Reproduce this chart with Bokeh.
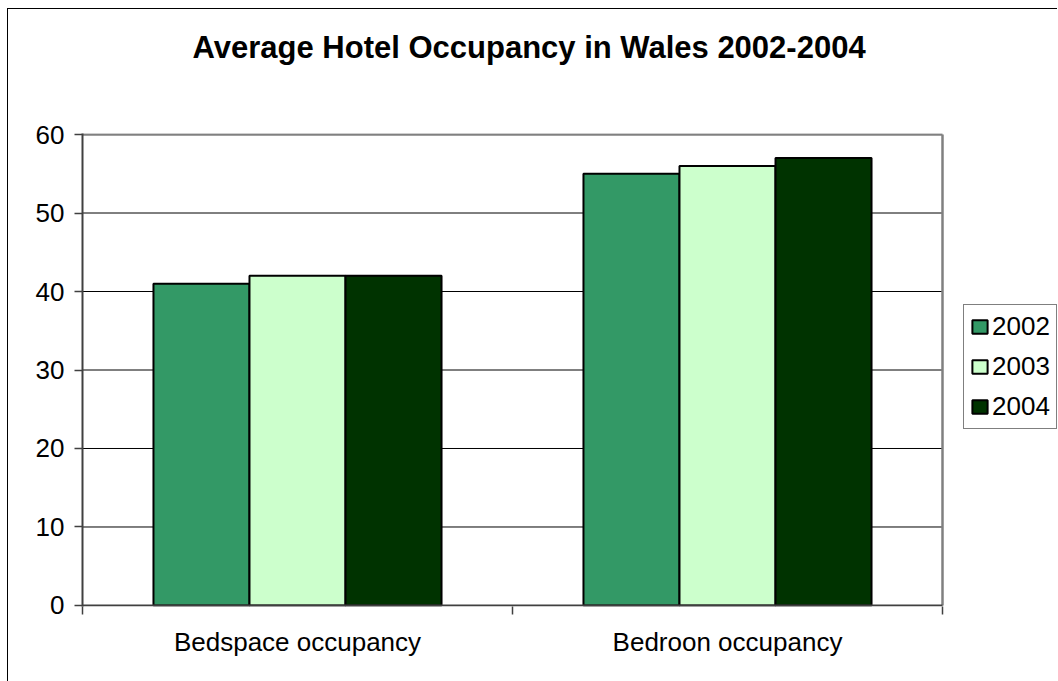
import numpy as np
from bokeh.plotting import figure
from bokeh.models import ColumnDataSource, Range1d, FixedTicker, Legend, LegendItem, Title
from bokeh.embed import file_html
from bokeh.resources import INLINE

title = "Average Hotel Occupancy in Wales 2002-2004"
categories = ["Bedspace occupancy", "Bedroon occupancy"]
years = ["2002", "2003", "2004"]
values_2002 = [41, 55]
values_2003 = [42, 56]
values_2004 = [42, 57]
series = [values_2002, values_2003, values_2004]
colors = ["#339966", "#CCFFCC", "#003300"]
y_ticks = [0, 10, 20, 30, 40, 50, 60]

FONT = "Liberation Sans"
BAR_W = 0.2233
N = len(categories)
PX_PER_CAT = 430.0
FRAME_W = 1050 - 74
Y_PAD = 0.13

p = figure(width=1050, height=673, output_backend="svg", toolbar_location=None, title=None,
           x_range=Range1d(0, FRAME_W / PX_PER_CAT),
           y_range=Range1d(y_ticks[0] - Y_PAD, y_ticks[-1] + Y_PAD),
           min_border_left=74, min_border_right=0, min_border_top=124, min_border_bottom=76,
           styles={"margin-left": "7px", "margin-top": "8px",
                   "border-left": "1px solid black", "border-top": "1px solid black"})

# spacer between plot area and title, then the title itself
p.add_layout(Title(text=" ", text_font_size="1px", standoff=62), "above")
p.add_layout(Title(text=title, align="left", offset=110, vertical_align="top", standoff=4,
                   text_font=FONT, text_font_size="31px", text_font_style="bold",
                   text_color="black"), "above")

# horizontal grid lines (under the bars)
grid_y = y_ticks[1:-1]
p.segment(x0=[0] * len(grid_y), x1=[N] * len(grid_y), y0=grid_y, y1=grid_y,
          line_color="black", line_width=1)

centers = np.arange(N) + 0.5
items = []
for i, (yr, vals, col) in enumerate(zip(years, series, colors)):
    src = ColumnDataSource(dict(x=centers + (i - 1) * BAR_W, top=vals))
    r = p.vbar(x="x", top="top", width=BAR_W, bottom=0, source=src,
               fill_color=col, line_color="black", line_width=2)
    items.append(LegendItem(label=yr, renderers=[r]))

# plot-area border: grey top and right, dark bottom axis line
p.segment(x0=[0], x1=[N], y0=[y_ticks[-1]], y1=[y_ticks[-1]], line_color="#808080", line_width=2.5)
p.segment(x0=[N], x1=[N], y0=[y_ticks[0]], y1=[y_ticks[-1]], line_color="#808080", line_width=2.5)
p.segment(x0=[0], x1=[N], y0=[y_ticks[0]], y1=[y_ticks[0]], line_color="#404040", line_width=2)

legend = Legend(items=items, location=(881, 177), border_line_color="black", border_line_width=1,
                label_text_font=FONT, label_text_font_size="26px", label_text_color="black",
                glyph_width=19, glyph_height=17, label_height=26, label_standoff=3,
                spacing=9, padding=6, margin=0, background_fill_alpha=1)
p.add_layout(legend, "center")

p.outline_line_color = None
p.xgrid.grid_line_color = None
p.ygrid.grid_line_color = None

ya = p.yaxis[0]
ya.ticker = FixedTicker(ticks=y_ticks)
ya.axis_line_color = "#404040"
ya.axis_line_width = 2
ya.major_tick_line_color = "#404040"
ya.major_tick_line_width = 1.5
ya.major_tick_out = 8
ya.major_tick_in = 0
ya.minor_tick_line_color = None
ya.major_label_text_font = FONT
ya.major_label_text_font_size = "26px"
ya.major_label_text_color = "black"
ya.major_label_standoff = 10

xa = p.xaxis[0]
xa.ticker = FixedTicker(ticks=list(centers), minor_ticks=list(range(N + 1)))
xa.major_label_overrides = {float(c): lab for c, lab in zip(centers, categories)}
xa.axis_line_color = None
xa.major_tick_line_color = None
xa.major_tick_out = 0
xa.major_tick_in = 0
xa.minor_tick_line_color = "#404040"
xa.minor_tick_line_width = 1.5
xa.minor_tick_out = 8
xa.minor_tick_in = 0
xa.major_label_text_font = FONT
xa.major_label_text_font_size = "26px"
xa.major_label_text_color = "black"
xa.major_label_standoff = 12

open("out.html", "w").write(file_html(p, INLINE))
